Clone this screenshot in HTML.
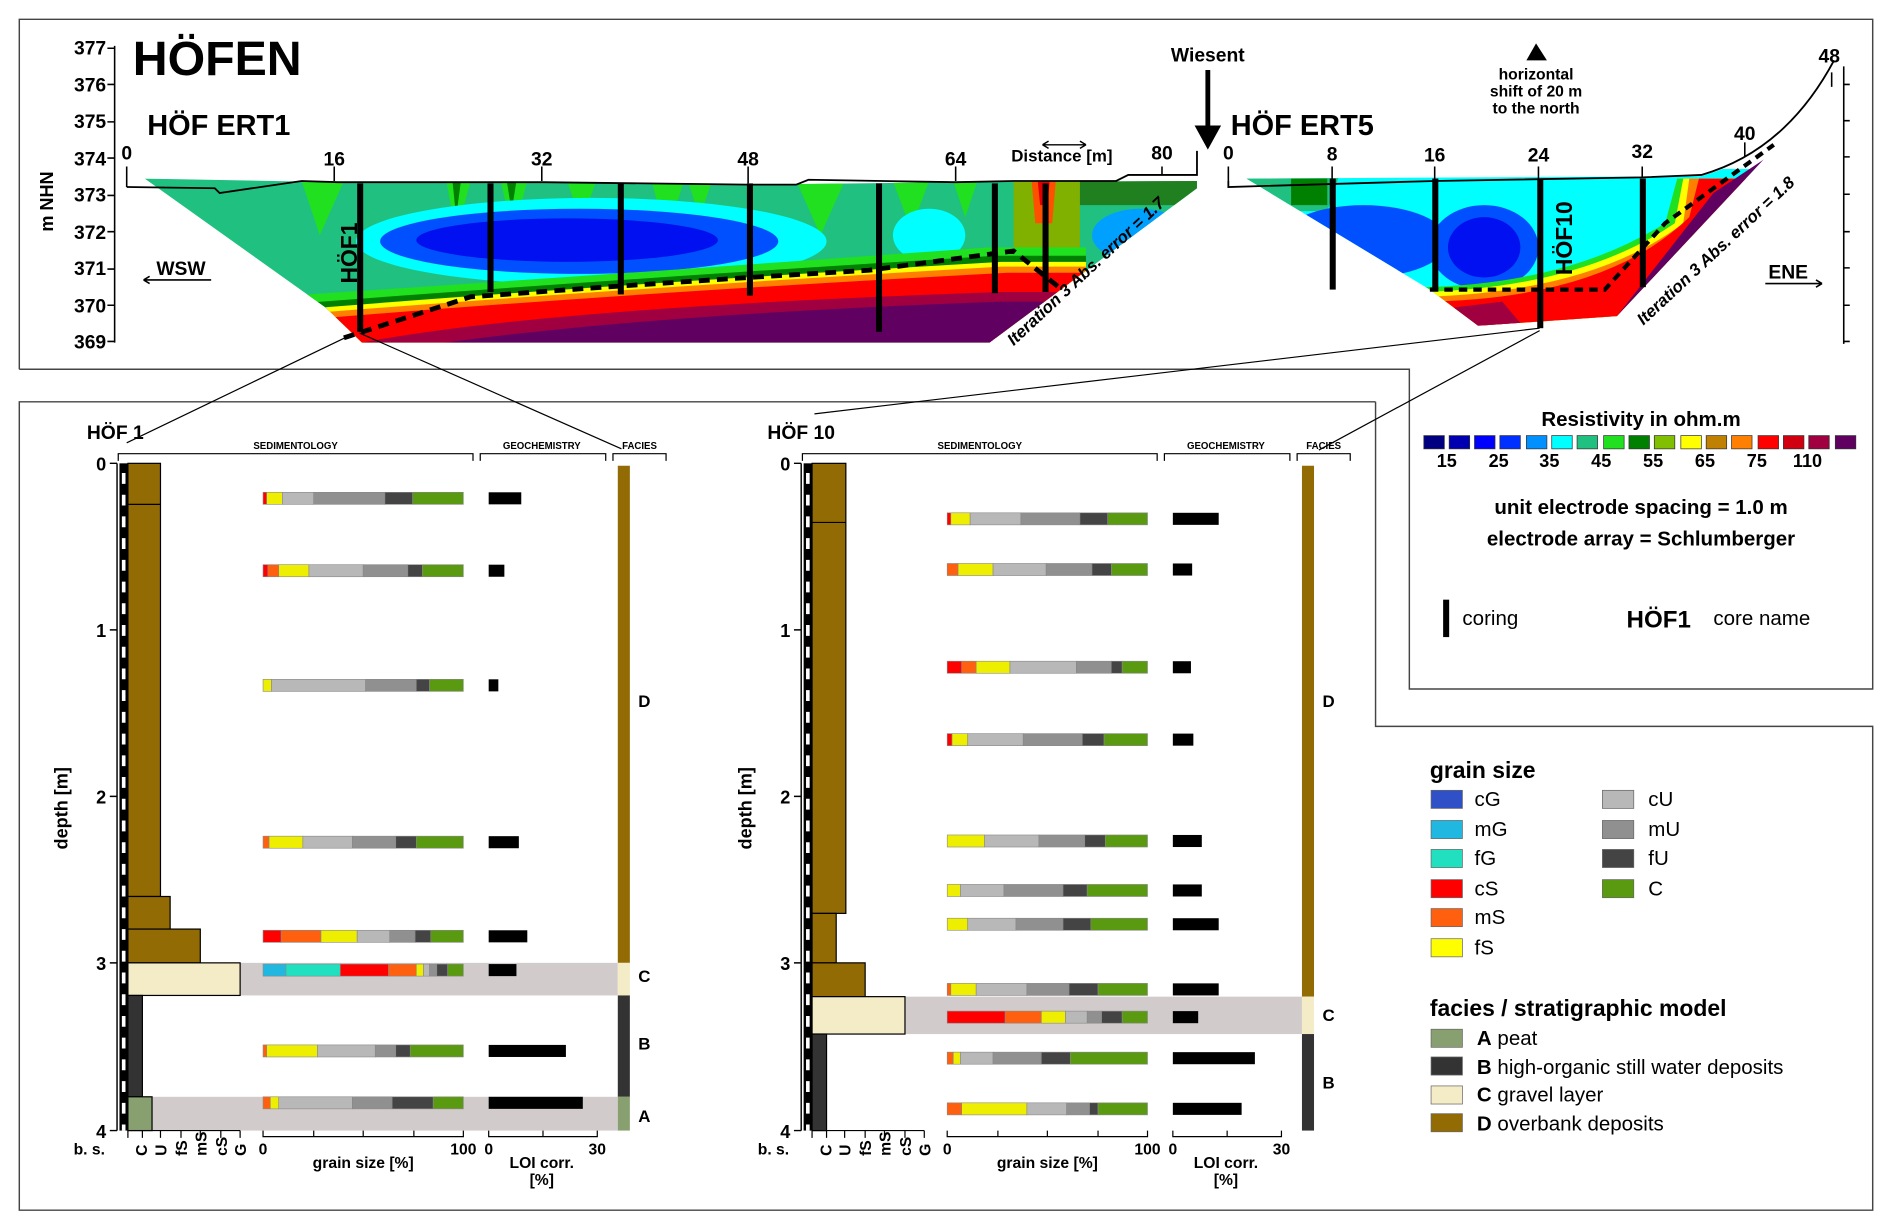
<!DOCTYPE html>
<html><head><meta charset="utf-8"><style>
html,body{margin:0;padding:0;background:#fff}
svg{display:block}
text{font-family:"Liberation Sans",sans-serif}
</style></head><body>
<svg width="1892" height="1230" viewBox="0 0 1568 1019.4" preserveAspectRatio="none" xmlns="http://www.w3.org/2000/svg">
<defs>
<clipPath id="c1"><polygon points="120,148 280,151 450,151 620,153 792,151 992,150 992,156 820,284 300,284 270,255"/></clipPath>
<clipPath id="c5"><path d="M1033,148 L1410,146 Q1480,125 1518,72 L1340,262 L1225,270 L1185,240 Z"/></clipPath>
</defs>
<g fill="none" stroke="#444" stroke-width="1.2">
<polyline points="16,306 16,16 1552,16 1552,571 1168,571 1168,306 16,306"/>
<polyline points="1140,333 16,333 16,1003 1552,1003 1552,602 1140,602 1140,333"/>
</g>
<!-- ERT1 -->
<g clip-path="url(#c1)">
<rect x="100" y="140" width="900" height="150" fill="#20c080"/>
<path d="M250,150 L265,195 L285,150Z M370,150 l8,45 l12,-45Z M415,150 l10,45 l12,-45Z M470,150 l12,35 l12,-35Z M540,150 l12,45 l15,-45Z M570,150 l10,30 l10,-30Z M660,150 l20,45 l20,-45Z M740,150 l15,40 l15,-40Z M790,150 l10,30 l10,-30Z" fill="#20e020"/>
<path d="M375,150 l3,30 l4,-30Z M420,150 l4,25 l4,-25Z" fill="#008000"/>
<path d="M840,150 h55 v100 h-55Z" fill="#80b000"/>
<path d="M855,150 h20 l-3,35 h-14Z" fill="#ff5000"/>
<path d="M860,150 h10 l-2,20 h-6Z" fill="#e00000"/>
<path d="M895,150 h97 v20 h-97Z" fill="#208020"/>
<ellipse cx="945" cy="195" rx="40" ry="22" fill="#00a0ff"/>
<ellipse cx="490" cy="200" rx="195" ry="36" fill="#00ffff"/>
<ellipse cx="480" cy="200" rx="165" ry="27" fill="#0050ff"/>
<ellipse cx="470" cy="199" rx="125" ry="18" fill="#0010f0"/>
<ellipse cx="770" cy="195" rx="30" ry="22" fill="#00ffff"/>
<path d="M240,245 Q500,228 820,205 L900,205 L900,300 L240,300Z" fill="#20e020"/>
<path d="M240,252 Q500,232 825,212 L900,212 L900,300 L240,300Z" fill="#008000"/>
<path d="M240,257 Q500,236 830,217 L900,217 L900,300 L240,300Z" fill="#ffff00"/>
<path d="M240,261 Q500,240 830,221 L900,221 L900,300 L240,300Z" fill="#ff8000"/>
<path d="M240,266 Q500,244 835,226 L900,226 L900,300 L240,300Z" fill="#ff0000"/>
<path d="M300,284 Q450,255 830,242 L900,242 L900,300 L300,300Z" fill="#a00040"/>
<path d="M330,290 Q500,262 830,250 L900,250 L900,300 L330,300Z" fill="#600060"/>
</g>
<polyline points="105,155 178,156 182,160 250,150 280,151 450,151 620,153 660,153 670,149 792,151 840,150 925,150 935,145 963,145 992,145 992,125" fill="none" stroke="#000" stroke-width="1.5"/>
<path d="M285,280 L390,246 L500,238 L620,230 L720,224 L840,208 L880,240" fill="none" stroke="#000" stroke-width="4" stroke-dasharray="9,6"/>
<!-- ERT5 -->
<g clip-path="url(#c5)">
<rect x="1020" y="140" width="520" height="140" fill="#00ffff"/>
<path d="M1030,145 h80 l-10,30 h-70Z" fill="#20c080"/>
<path d="M1070,148 h30 v22 h-30Z" fill="#008000"/>
<ellipse cx="1130" cy="200" rx="70" ry="30" fill="#0050ff"/>
<ellipse cx="1230" cy="205" rx="45" ry="35" fill="#0050ff"/>
<ellipse cx="1230" cy="205" rx="30" ry="25" fill="#0010f0"/>
<path d="M1180,238 Q1300,235 1380,185 L1390,148 L1540,148 L1540,290 L1180,290Z" fill="#20e020"/>
<path d="M1180,242 Q1310,238 1388,185 L1395,148 L1540,148 L1540,290 L1180,290Z" fill="#ffff00"/>
<path d="M1180,246 Q1320,242 1395,185 L1400,148 L1540,148 L1540,290 L1180,290Z" fill="#ff8000"/>
<path d="M1180,250 Q1330,248 1400,180 L1408,148 L1540,148 L1540,290 L1180,290Z" fill="#ff0000"/>
<path d="M1180,258 L1245,250 L1262,270 L1180,280Z" fill="#a00040"/>
<path d="M1340,262 L1420,160 L1480,120 L1540,60 L1540,290Z" fill="#600060"/>
</g>
<path d="M1018,150 L1018,155 L1189,150 L1361,147 L1410,145 Q1480,125 1520,50" fill="none" stroke="#000" stroke-width="1.5"/>
<path d="M1185,240 L1330,240 L1380,185 L1470,120" fill="none" stroke="#000" stroke-width="3.5" stroke-dasharray="7,5"/>
<g fill="#000">
<rect x="296" y="152" width="5" height="123"/><rect x="404" y="152" width="5" height="90"/><rect x="512" y="152" width="5" height="92"/><rect x="619" y="152" width="5" height="93"/><rect x="726" y="152" width="5" height="123"/><rect x="822" y="152" width="5" height="91"/><rect x="864" y="152" width="5" height="90"/>
<rect x="1102" y="148" width="5" height="92"/><rect x="1187" y="148" width="5" height="92"/><rect x="1274" y="148" width="5" height="124"/><rect x="1359" y="148" width="5" height="90"/>
</g>
<text transform="translate(296,235) rotate(-90)" font-size="19" font-weight="bold">HÖF1</text>
<text transform="translate(1303,228) rotate(-90)" font-size="19" font-weight="bold">HÖF10</text>
<g stroke="#000" stroke-width="1.3" fill="none">
<path d="M95,38 V284 M89,40 H95 M89,70 H95 M89,101 H95 M89,131 H95 M89,162 H95 M89,192 H95 M89,223 H95 M89,253 H95 M89,283 H95"/>
<path d="M1528,55 V285 M1528,70 h5 M1528,100 h5 M1528,130 h5 M1528,161 h5 M1528,192 h5 M1528,222 h5 M1528,253 h5 M1528,283 h5"/>
<path d="M105,138 V155 M277,138 V150 M449,138 V150 M620,138 V152 M792,138 V150 M963,138 V145 M1018,138 V150 M1104,138 V150 M1189,138 V150 M1275,138 V150 M1361,138 V147 M1446,118 V130 M1518,60 V72"/>
</g>
<g font-size="16" font-weight="bold" text-anchor="end">
<text x="88" y="45">377</text><text x="88" y="76">376</text><text x="88" y="106">375</text><text x="88" y="137">374</text><text x="88" y="167">373</text><text x="88" y="198">372</text><text x="88" y="228">371</text><text x="88" y="259">370</text><text x="88" y="289">369</text>
</g>
<text transform="translate(44,192) rotate(-90)" font-size="15" font-weight="bold">m NHN</text>
<g font-size="16" font-weight="bold" text-anchor="middle">
<text x="105" y="132">0</text><text x="277" y="137">16</text><text x="449" y="137">32</text><text x="620" y="137">48</text><text x="792" y="137">64</text><text x="963" y="132">80</text>
<text x="1018" y="132">0</text><text x="1104" y="133">8</text><text x="1189" y="134">16</text><text x="1275" y="134">24</text><text x="1361" y="131">32</text><text x="1446" y="116">40</text><text x="1516" y="52">48</text>
</g>
<text x="110" y="62" font-size="40" font-weight="bold">HÖFEN</text>
<text x="122" y="112" font-size="24" font-weight="bold">HÖF ERT1</text>
<text x="1020" y="112" font-size="24" font-weight="bold">HÖF ERT5</text>
<text x="880" y="134" font-size="14" font-weight="bold" text-anchor="middle">Distance [m]</text>
<path d="M864,120 H900 M864,120 l5,-3 M864,120 l5,3 M900,120 l-5,-3 M900,120 l-5,3" stroke="#000" stroke-width="1.2"/>
<text x="1001" y="51" font-size="16" font-weight="bold" text-anchor="middle">Wiesent</text>
<path d="M1001,58 V108" stroke="#000" stroke-width="4"/>
<polygon points="990,104 1012,104 1001,124" fill="#000"/>
<polygon points="1265,50 1282,50 1273,36" fill="#000"/>
<g font-size="13" font-weight="bold" text-anchor="middle"><text x="1273" y="66">horizontal</text><text x="1273" y="80">shift of 20 m</text><text x="1273" y="94">to the north</text></g>
<text x="150" y="228" font-size="16" font-weight="bold" text-anchor="middle">WSW</text>
<path d="M119,232 H175 M119,232 l5,-3 M119,232 l5,3" stroke="#000" stroke-width="1.3"/>
<text x="1482" y="231" font-size="16" font-weight="bold" text-anchor="middle">ENE</text>
<path d="M1463,235 H1510 M1510,235 l-5,-3 M1510,235 l-5,3" stroke="#000" stroke-width="1.3"/>
<text transform="translate(840,287) rotate(-43)" font-size="14" font-weight="bold" font-style="italic">Iteration 3 Abs. error = 1.7</text>
<text transform="translate(1362,270) rotate(-43)" font-size="14" font-weight="bold" font-style="italic">Iteration 3 Abs. error = 1.8</text>
<g stroke="#000" stroke-width="1">
<path d="M290,278 L105,367 M298,276 L515,372 M1276,272 L675,343 M1276,274 L1093,373"/>
</g>
<text x="1360" y="353" font-size="17" font-weight="bold" text-anchor="middle">Resistivity in ohm.m</text>
<g stroke="#333" stroke-width="0.6">
<rect x="1180" y="361" width="17" height="11" fill="#000080"/><rect x="1201" y="361" width="17" height="11" fill="#0000b0"/><rect x="1222" y="361" width="17" height="11" fill="#0000ff"/><rect x="1243" y="361" width="17" height="11" fill="#0030ff"/><rect x="1265" y="361" width="17" height="11" fill="#0090ff"/><rect x="1286" y="361" width="17" height="11" fill="#00ffff"/><rect x="1307" y="361" width="17" height="11" fill="#20c080"/><rect x="1329" y="361" width="17" height="11" fill="#20e020"/><rect x="1350" y="361" width="17" height="11" fill="#008000"/><rect x="1371" y="361" width="17" height="11" fill="#80c000"/><rect x="1393" y="361" width="17" height="11" fill="#ffff00"/><rect x="1414" y="361" width="17" height="11" fill="#c08000"/><rect x="1435" y="361" width="17" height="11" fill="#ff8000"/><rect x="1457" y="361" width="17" height="11" fill="#ff0000"/><rect x="1478" y="361" width="17" height="11" fill="#d00010"/><rect x="1499" y="361" width="17" height="11" fill="#a00040"/><rect x="1521" y="361" width="17" height="11" fill="#600060"/>
</g>
<g font-size="15" font-weight="bold" text-anchor="middle"><text x="1199" y="387">15</text><text x="1242" y="387">25</text><text x="1284" y="387">35</text><text x="1327" y="387">45</text><text x="1370" y="387">55</text><text x="1413" y="387">65</text><text x="1456" y="387">75</text><text x="1498" y="387">110</text></g>
<text x="1360" y="426" font-size="17" font-weight="bold" text-anchor="middle">unit electrode spacing = 1.0 m</text>
<text x="1360" y="452" font-size="17" font-weight="bold" text-anchor="middle">electrode array = Schlumberger</text>
<rect x="1196" y="497" width="5" height="31" fill="#000"/>
<text x="1212" y="518" font-size="17">coring</text>
<text x="1348" y="520" font-size="20" font-weight="bold">HÖF1</text>
<text x="1420" y="518" font-size="17">core name</text>

<g>
<text x="72" y="364" font-size="16" font-weight="bold">HÖF 1</text>
<g stroke="#000" stroke-width="1" fill="none"><path d="M98,382 V376 H392 V382 M398,382 V376 H502 V382 M508,382 V376 H552 V382"/></g>
<g font-size="8" font-weight="bold" text-anchor="middle"><text x="245" y="372">SEDIMENTOLOGY</text><text x="449" y="372">GEOCHEMISTRY</text><text x="530" y="372">FACIES</text></g>
<rect x="106" y="798" width="406" height="27" fill="#d2cbcb"/><rect x="106" y="909" width="406" height="28" fill="#d2cbcb"/>
<g stroke="#000" stroke-width="1">
<rect x="106" y="384" width="27" height="359" fill="#926b05"/><line x1="106" y1="418" x2="133" y2="418"/>
<rect x="106" y="743" width="35" height="27" fill="#926b05"/><rect x="106" y="770" width="60" height="28" fill="#926b05"/>
<rect x="106" y="798" width="93" height="27" fill="#f3ecc7"/>
<rect x="106" y="825" width="12" height="84" fill="#333"/><rect x="106" y="909" width="20" height="28" fill="#88a070"/>
</g>
<rect x="512" y="386" width="10" height="412" fill="#926b05"/><rect x="512" y="798" width="10" height="27" fill="#f3ecc7"/><rect x="512" y="825" width="10" height="84" fill="#333"/><rect x="512" y="909" width="10" height="28" fill="#88a070"/>
<g font-size="14" font-weight="bold"><text x="529" y="586">D</text><text x="529" y="814">C</text><text x="529" y="870">B</text><text x="529" y="930">A</text></g>
</g>
<g>
<rect x="99" y="384" width="7" height="553" fill="#000"/>
<path d="M102.5,392 V937" stroke="#fff" stroke-width="3" stroke-dasharray="9,9"/>
<rect x="666" y="384" width="7" height="553" fill="#000"/>
<path d="M669.5,392 V937" stroke="#fff" stroke-width="3" stroke-dasharray="9,9"/>
<path d="M97,384 V937 M91,384 H97 M91,522 H97 M91,660 H97 M91,798 H97 M91,937 H97 M664,384 V937 M658,384 H664 M658,522 H664 M658,660 H664 M658,798 H664 M658,937 H664" stroke="#000" stroke-width="1.2"/>
</g>
<g font-size="15" font-weight="bold" text-anchor="end">
<text x="88" y="390">0</text><text x="88" y="528">1</text><text x="88" y="666">2</text><text x="88" y="804">3</text><text x="88" y="943">4</text>
<text x="655" y="390">0</text><text x="655" y="528">1</text><text x="655" y="666">2</text><text x="655" y="804">3</text><text x="655" y="943">4</text>
</g>
<text transform="translate(56,704) rotate(-90)" font-size="15" font-weight="bold">depth [m]</text>
<text transform="translate(623,704) rotate(-90)" font-size="15" font-weight="bold">depth [m]</text>

<text x="636" y="364" font-size="16" font-weight="bold">HÖF 10</text>
<g stroke="#000" stroke-width="1" fill="none"><path d="M665,382 V376 H959 V382 M965,382 V376 H1069 V382 M1075,382 V376 H1119 V382"/></g>
<g font-size="8" font-weight="bold" text-anchor="middle"><text x="812" y="372">SEDIMENTOLOGY</text><text x="1016" y="372">GEOCHEMISTRY</text><text x="1097" y="372">FACIES</text></g>
<rect x="673" y="826" width="406" height="31" fill="#d2cbcb"/>
<g stroke="#000" stroke-width="1">
<rect x="673" y="384" width="28" height="373" fill="#926b05"/><line x1="673" y1="433" x2="701" y2="433"/>
<rect x="673" y="757" width="20" height="41" fill="#926b05"/><rect x="673" y="798" width="44" height="28" fill="#926b05"/>
<rect x="673" y="826" width="77" height="31" fill="#f3ecc7"/>
<rect x="673" y="857" width="12" height="80" fill="#333"/>
</g>
<rect x="1079" y="386" width="10" height="440" fill="#926b05"/><rect x="1079" y="826" width="10" height="31" fill="#f3ecc7"/><rect x="1079" y="857" width="10" height="80" fill="#333"/>
<g font-size="14" font-weight="bold"><text x="1096" y="586">D</text><text x="1096" y="846">C</text><text x="1096" y="902">B</text></g>

<g stroke="#000" stroke-width="1" fill="none">
<path d="M106,937 V943 M118,937 V943 M133,937 V943 M150,937 V943 M166,937 V943 M183,937 V943 M199,937 V943 M106,937 H199"/>
<path d="M218,937 V942 H384 V937 M260,937 V942 M301,937 V942 M343,937 V942 M405,937 V942 H495 V937 M450,937 V942"/>
<path d="M673,937 V943 M685,937 V943 M700,937 V943 M717,937 V943 M733,937 V943 M750,937 V943 M766,937 V943 M673,937 H766"/>
<path d="M785,937 V942 H951 V937 M827,937 V942 M868,937 V942 M910,937 V942 M972,937 V942 H1062 V937 M1017,937 V942"/>
</g>
<g font-size="13" font-weight="bold">
<text x="61" y="957">b. s.</text><text x="628" y="957">b. s.</text>
<g text-anchor="middle"><text x="218" y="957">0</text><text x="384" y="957">100</text><text x="301" y="968">grain size [%]</text><text x="405" y="957">0</text><text x="495" y="957">30</text><text x="449" y="968">LOI corr.</text><text x="449" y="982">[%]</text>
<text x="785" y="957">0</text><text x="951" y="957">100</text><text x="868" y="968">grain size [%]</text><text x="972" y="957">0</text><text x="1062" y="957">30</text><text x="1016" y="968">LOI corr.</text><text x="1016" y="982">[%]</text></g>
</g>
<g font-size="13" font-weight="bold">
<text transform="translate(122,958) rotate(-90)">C</text><text transform="translate(138,958) rotate(-90)">U</text><text transform="translate(155,958) rotate(-90)">fS</text><text transform="translate(171,958) rotate(-90)">mS</text><text transform="translate(188,958) rotate(-90)">cS</text><text transform="translate(204,958) rotate(-90)">G</text>
<text transform="translate(689,958) rotate(-90)">C</text><text transform="translate(705,958) rotate(-90)">U</text><text transform="translate(722,958) rotate(-90)">fS</text><text transform="translate(738,958) rotate(-90)">mS</text><text transform="translate(755,958) rotate(-90)">cS</text><text transform="translate(771,958) rotate(-90)">G</text>
</g>

<g stroke="#888" stroke-width="0.5">
<g transform="translate(0,408)"><rect x="218" width="3" height="10" fill="#f00"/><rect x="221" width="13" height="10" fill="#ee0"/><rect x="234" width="26" height="10" fill="#b8b8b8"/><rect x="260" width="59" height="10" fill="#909090"/><rect x="319" width="23" height="10" fill="#444"/><rect x="342" width="42" height="10" fill="#5a9a10"/></g>
<g transform="translate(0,468)"><rect x="218" width="4" height="10" fill="#f00"/><rect x="222" width="9" height="10" fill="#ff6010"/><rect x="231" width="25" height="10" fill="#ee0"/><rect x="256" width="45" height="10" fill="#b8b8b8"/><rect x="301" width="37" height="10" fill="#909090"/><rect x="338" width="12" height="10" fill="#444"/><rect x="350" width="34" height="10" fill="#5a9a10"/></g>
<g transform="translate(0,563)"><rect x="218" width="7" height="10" fill="#ee0"/><rect x="225" width="78" height="10" fill="#b8b8b8"/><rect x="303" width="42" height="10" fill="#909090"/><rect x="345" width="11" height="10" fill="#444"/><rect x="356" width="28" height="10" fill="#5a9a10"/></g>
<g transform="translate(0,693)"><rect x="218" width="5" height="10" fill="#ff6010"/><rect x="223" width="28" height="10" fill="#ee0"/><rect x="251" width="41" height="10" fill="#b8b8b8"/><rect x="292" width="36" height="10" fill="#909090"/><rect x="328" width="17" height="10" fill="#444"/><rect x="345" width="39" height="10" fill="#5a9a10"/></g>
<g transform="translate(0,771)"><rect x="218" width="15" height="10" fill="#f00"/><rect x="233" width="33" height="10" fill="#ff6010"/><rect x="266" width="30" height="10" fill="#ee0"/><rect x="296" width="27" height="10" fill="#b8b8b8"/><rect x="323" width="21" height="10" fill="#909090"/><rect x="344" width="13" height="10" fill="#444"/><rect x="357" width="27" height="10" fill="#5a9a10"/></g>
<g transform="translate(0,799)"><rect x="218" width="19" height="10" fill="#20b8e0"/><rect x="237" width="45" height="10" fill="#20e0c0"/><rect x="282" width="40" height="10" fill="#f00"/><rect x="322" width="23" height="10" fill="#ff6010"/><rect x="345" width="6" height="10" fill="#ee0"/><rect x="351" width="5" height="10" fill="#b8b8b8"/><rect x="356" width="6" height="10" fill="#909090"/><rect x="362" width="9" height="10" fill="#444"/><rect x="371" width="13" height="10" fill="#5a9a10"/></g>
<g transform="translate(0,866)"><rect x="218" width="3" height="10" fill="#ff6010"/><rect x="221" width="42" height="10" fill="#ee0"/><rect x="263" width="48" height="10" fill="#b8b8b8"/><rect x="311" width="17" height="10" fill="#909090"/><rect x="328" width="12" height="10" fill="#444"/><rect x="340" width="44" height="10" fill="#5a9a10"/></g>
<g transform="translate(0,909)"><rect x="218" width="6" height="10" fill="#ff6010"/><rect x="224" width="7" height="10" fill="#ee0"/><rect x="231" width="61" height="10" fill="#b8b8b8"/><rect x="292" width="33" height="10" fill="#909090"/><rect x="325" width="34" height="10" fill="#444"/><rect x="359" width="25" height="10" fill="#5a9a10"/></g>
</g>
<g fill="#000">
<rect x="405" y="408" width="27" height="10"/><rect x="405" y="468" width="13" height="10"/><rect x="405" y="563" width="8" height="10"/><rect x="405" y="693" width="25" height="10"/><rect x="405" y="771" width="32" height="10"/><rect x="405" y="799" width="23" height="10"/><rect x="405" y="866" width="64" height="10"/><rect x="405" y="909" width="78" height="10"/>
</g>
<g stroke="#888" stroke-width="0.5">
<g transform="translate(0,425)"><rect x="785" width="3" height="10" fill="#f00"/><rect x="788" width="16" height="10" fill="#ee0"/><rect x="804" width="42" height="10" fill="#b8b8b8"/><rect x="846" width="49" height="10" fill="#909090"/><rect x="895" width="23" height="10" fill="#444"/><rect x="918" width="33" height="10" fill="#5a9a10"/></g>
<g transform="translate(0,467)"><rect x="785" width="9" height="10" fill="#ff6010"/><rect x="794" width="29" height="10" fill="#ee0"/><rect x="823" width="44" height="10" fill="#b8b8b8"/><rect x="867" width="38" height="10" fill="#909090"/><rect x="905" width="16" height="10" fill="#444"/><rect x="921" width="30" height="10" fill="#5a9a10"/></g>
<g transform="translate(0,548)"><rect x="785" width="12" height="10" fill="#f00"/><rect x="797" width="12" height="10" fill="#ff6010"/><rect x="809" width="28" height="10" fill="#ee0"/><rect x="837" width="55" height="10" fill="#b8b8b8"/><rect x="892" width="29" height="10" fill="#909090"/><rect x="921" width="9" height="10" fill="#444"/><rect x="930" width="21" height="10" fill="#5a9a10"/></g>
<g transform="translate(0,608)"><rect x="785" width="4" height="10" fill="#f00"/><rect x="789" width="13" height="10" fill="#ee0"/><rect x="802" width="46" height="10" fill="#b8b8b8"/><rect x="848" width="49" height="10" fill="#909090"/><rect x="897" width="18" height="10" fill="#444"/><rect x="915" width="36" height="10" fill="#5a9a10"/></g>
<g transform="translate(0,692)"><rect x="785" width="31" height="10" fill="#ee0"/><rect x="816" width="45" height="10" fill="#b8b8b8"/><rect x="861" width="38" height="10" fill="#909090"/><rect x="899" width="17" height="10" fill="#444"/><rect x="916" width="35" height="10" fill="#5a9a10"/></g>
<g transform="translate(0,733)"><rect x="785" width="11" height="10" fill="#ee0"/><rect x="796" width="36" height="10" fill="#b8b8b8"/><rect x="832" width="49" height="10" fill="#909090"/><rect x="881" width="20" height="10" fill="#444"/><rect x="901" width="50" height="10" fill="#5a9a10"/></g>
<g transform="translate(0,761)"><rect x="785" width="17" height="10" fill="#ee0"/><rect x="802" width="40" height="10" fill="#b8b8b8"/><rect x="842" width="39" height="10" fill="#909090"/><rect x="881" width="23" height="10" fill="#444"/><rect x="904" width="47" height="10" fill="#5a9a10"/></g>
<g transform="translate(0,815)"><rect x="785" width="3" height="10" fill="#ff6010"/><rect x="788" width="21" height="10" fill="#ee0"/><rect x="809" width="42" height="10" fill="#b8b8b8"/><rect x="851" width="35" height="10" fill="#909090"/><rect x="886" width="24" height="10" fill="#444"/><rect x="910" width="41" height="10" fill="#5a9a10"/></g>
<g transform="translate(0,838)"><rect x="785" width="48" height="10" fill="#f00"/><rect x="833" width="30" height="10" fill="#ff6010"/><rect x="863" width="20" height="10" fill="#ee0"/><rect x="883" width="18" height="10" fill="#b8b8b8"/><rect x="901" width="12" height="10" fill="#909090"/><rect x="913" width="17" height="10" fill="#444"/><rect x="930" width="21" height="10" fill="#5a9a10"/></g>
<g transform="translate(0,872)"><rect x="785" width="5" height="10" fill="#ff6010"/><rect x="790" width="6" height="10" fill="#ee0"/><rect x="796" width="27" height="10" fill="#b8b8b8"/><rect x="823" width="40" height="10" fill="#909090"/><rect x="863" width="24" height="10" fill="#444"/><rect x="887" width="64" height="10" fill="#5a9a10"/></g>
<g transform="translate(0,914)"><rect x="785" width="12" height="10" fill="#ff6010"/><rect x="797" width="54" height="10" fill="#ee0"/><rect x="851" width="33" height="10" fill="#b8b8b8"/><rect x="884" width="19" height="10" fill="#909090"/><rect x="903" width="7" height="10" fill="#444"/><rect x="910" width="41" height="10" fill="#5a9a10"/></g>
</g>
<g fill="#000">
<rect x="972" y="425" width="38" height="10"/><rect x="972" y="467" width="16" height="10"/><rect x="972" y="548" width="15" height="10"/><rect x="972" y="608" width="17" height="10"/><rect x="972" y="692" width="24" height="10"/><rect x="972" y="733" width="24" height="10"/><rect x="972" y="761" width="38" height="10"/><rect x="972" y="815" width="38" height="10"/><rect x="972" y="838" width="21" height="10"/><rect x="972" y="872" width="68" height="10"/><rect x="972" y="914" width="57" height="10"/>
</g>

<text x="1185" y="645" font-size="19" font-weight="bold">grain size</text>
<g stroke="#666" stroke-width="0.6">
<rect x="1186" y="655" width="26" height="15" fill="#3050c8"/><rect x="1186" y="680" width="26" height="15" fill="#20b8e0"/><rect x="1186" y="704" width="26" height="15" fill="#20e0c0"/><rect x="1186" y="729" width="26" height="15" fill="#f00"/><rect x="1186" y="753" width="26" height="15" fill="#ff6010"/><rect x="1186" y="778" width="26" height="15" fill="#ff0"/>
<rect x="1328" y="655" width="26" height="15" fill="#b8b8b8"/><rect x="1328" y="680" width="26" height="15" fill="#909090"/><rect x="1328" y="704" width="26" height="15" fill="#444"/><rect x="1328" y="729" width="26" height="15" fill="#5a9a10"/>
</g>
<g font-size="17"><text x="1222" y="668">cG</text><text x="1222" y="693">mG</text><text x="1222" y="717">fG</text><text x="1222" y="742">cS</text><text x="1222" y="766">mS</text><text x="1222" y="791">fS</text>
<text x="1366" y="668">cU</text><text x="1366" y="693">mU</text><text x="1366" y="717">fU</text><text x="1366" y="742">C</text></g>
<text x="1185" y="842" font-size="19" font-weight="bold">facies / stratigraphic model</text>
<g stroke="#666" stroke-width="0.6">
<rect x="1186" y="853" width="26" height="15" fill="#88a070"/><rect x="1186" y="876" width="26" height="15" fill="#333"/><rect x="1186" y="900" width="26" height="15" fill="#f3ecc7"/><rect x="1186" y="923" width="26" height="15" fill="#926b05"/>
</g>
<g font-size="17"><text x="1224" y="866"><tspan font-weight="bold">A</tspan> peat</text><text x="1224" y="890"><tspan font-weight="bold">B</tspan> high-organic still water deposits</text><text x="1224" y="913"><tspan font-weight="bold">C</tspan> gravel layer</text><text x="1224" y="937"><tspan font-weight="bold">D</tspan> overbank deposits</text></g>
</svg>
</body></html>
